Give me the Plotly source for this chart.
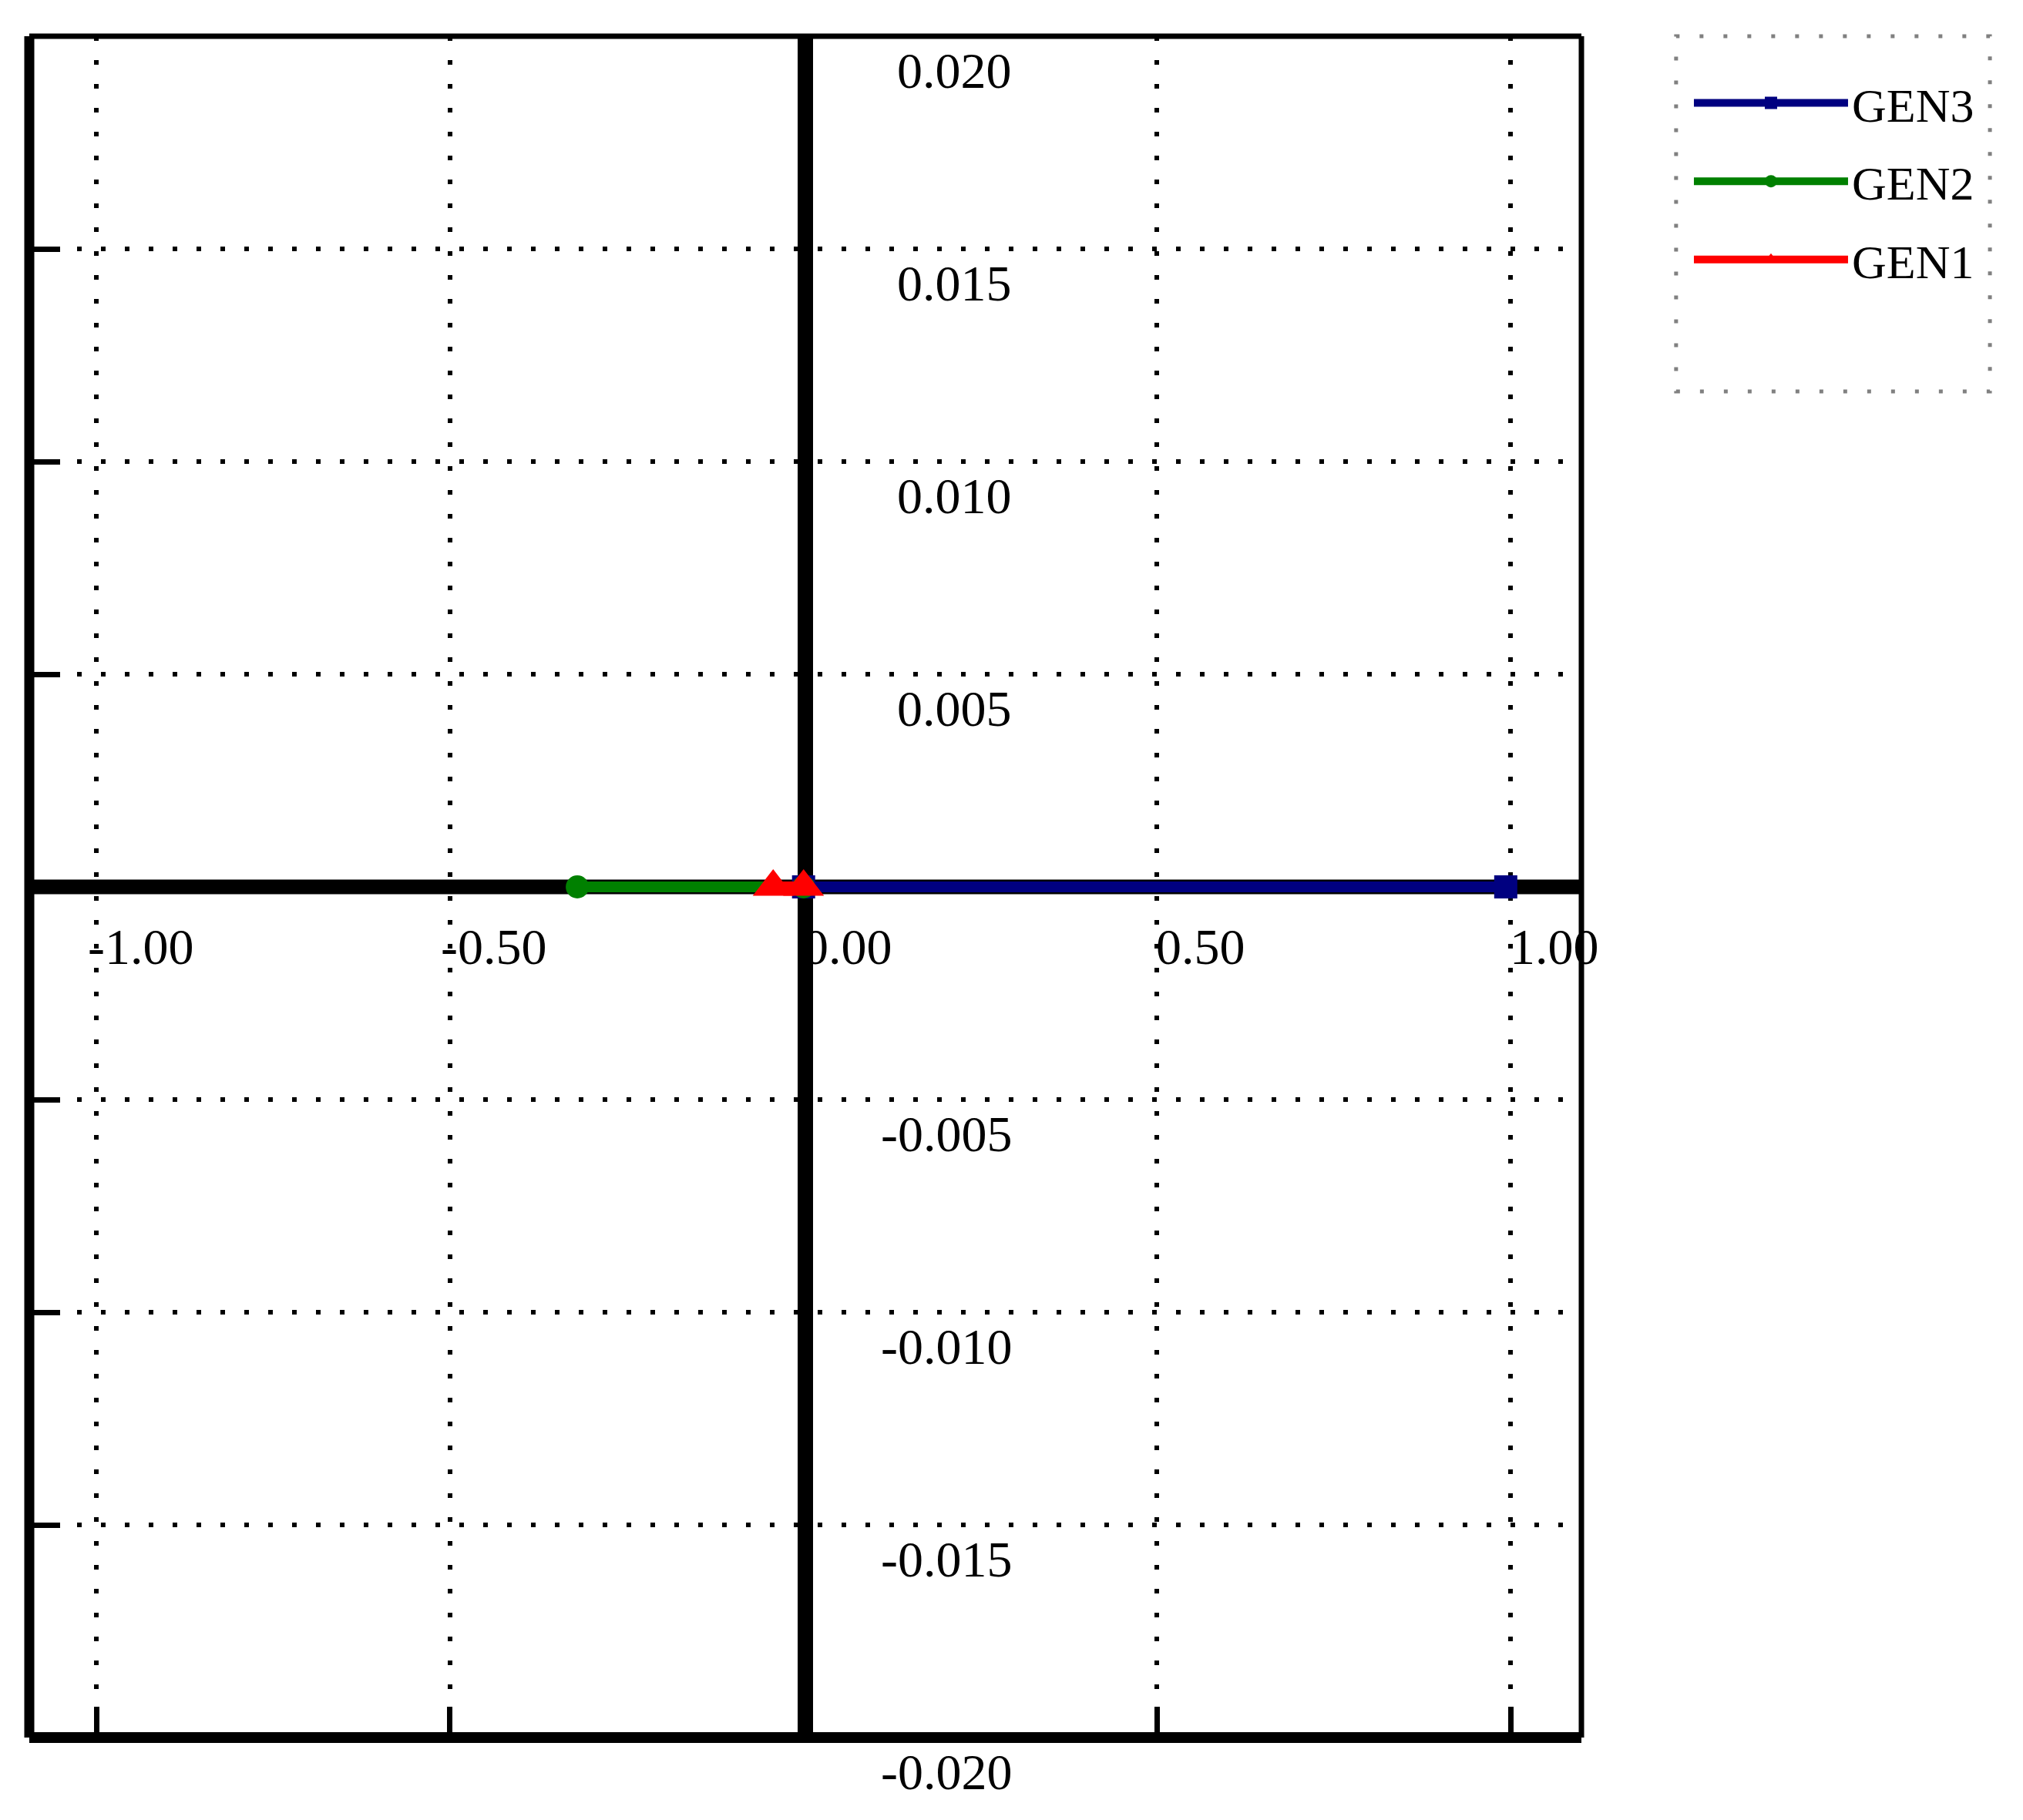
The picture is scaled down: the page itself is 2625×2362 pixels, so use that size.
import plotly.graph_objects as go

# ─── Data ─────────────────────────────────────────────────────────────────────

gen3_x = [0.0, 0.993]
gen3_y = [0.0, 0.0]
gen2_x = [0.0, -0.32]
gen2_y = [0.0, 0.0]
gen1_x = [0.0, -0.043]
gen1_y = [0.0, 0.0]

x_ticks = [-1.0, -0.5, 0.0, 0.5, 1.0]
x_ticktext = ["-1.00", "-0.50", "0.00", "0.50", "1.00"]
y_grid = [-0.02, -0.015, -0.01, -0.005, 0.0, 0.005, 0.01, 0.015, 0.02]
y_labels = [-0.02, -0.015, -0.01, -0.005, 0.005, 0.01, 0.015, 0.02]
y_labeltext = ["-0.020", "-0.015", "-0.010", "-0.005", "0.005", "0.010", "0.015", "0.020"]

X_RANGE = [-1.095, 1.1]
Y_RANGE = [-0.02, 0.02]

FONT = "Liberation Serif"
GRID_DASH = "6px,25px"

fig = go.Figure()

fig.add_trace(go.Scatter(
    x=gen3_x, y=gen3_y, name="GEN3", mode="lines+markers", legendgroup="g3",
    line=dict(color="#000080", width=14),
    marker=dict(symbol="square", size=30, color="#000080"),
))
fig.add_trace(go.Scatter(
    x=gen2_x, y=gen2_y, name="GEN2", mode="lines+markers", legendgroup="g2",
    line=dict(color="#008000", width=14),
    marker=dict(symbol="circle", size=30, color="#008000"),
))
fig.add_trace(go.Scatter(
    x=gen1_x, y=gen1_y, name="GEN1", mode="lines+markers", legendgroup="g1",
    line=dict(color="#FF0000", width=14),
    marker=dict(symbol="triangle-up", size=46, color="#FF0000"),
))

# spines: left/bottom heavy, top/right light, centre heavy
spines = [
    dict(x0=0, x1=0, y0=0, y1=1, w=13),
    dict(x0=0, x1=1, y0=0, y1=0, w=14),
    dict(x0=0, x1=1, y0=1, y1=1, w=7),
    dict(x0=1, x1=1, y0=0, y1=1, w=7),
    dict(x0=0.5, x1=0.5, y0=0, y1=1, w=20),
]
for s in spines:
    fig.add_shape(type="line", xref="paper", yref="paper",
                  x0=s["x0"], x1=s["x1"], y0=s["y0"], y1=s["y1"],
                  line=dict(color="black", width=s["w"]), layer="between")
fig.add_shape(type="line", xref="paper", yref="y", x0=0, x1=1, y0=0, y1=0,
              line=dict(color="black", width=19), layer="between")

# legend frame (dotted grey)
fig.add_shape(type="rect", xref="paper", yref="paper",
              x0=1.061, x1=1.2632, y0=0.7912, y1=1.0,
              line=dict(color="#808080", width=5, dash="5px,26px"))

# tick labels sitting along the centre spines
for v, t in zip(x_ticks, x_ticktext):
    fig.add_annotation(x=v, y=0.5, xref="x", yref="paper", text=t, showarrow=False,
                       xanchor="center", yanchor="middle", xshift=57, yshift=-77,
                       font=dict(family=FONT, size=66, color="black"))
for v, t in zip(y_labels, y_labeltext):
    fig.add_annotation(x=0.5, y=v, xref="paper", yref="y", text=t, showarrow=False,
                       xanchor="right", yanchor="middle", xshift=270, yshift=-44,
                       font=dict(family=FONT, size=66, color="black"))

fig.update_layout(
    width=2617, height=2354,
    margin=dict(l=30, r=573, t=39, b=107),
    paper_bgcolor="white", plot_bgcolor="white",
    font=dict(family=FONT, size=66, color="black"),
    xaxis=dict(
        range=X_RANGE, tickvals=x_ticks, showticklabels=False,
        ticks="inside", ticklen=40, tickwidth=7, tickcolor="black",
        showgrid=True, gridcolor="black", gridwidth=6, griddash=GRID_DASH,
        zeroline=False, showline=False,
    ),
    yaxis=dict(
        range=Y_RANGE, tickvals=y_grid, showticklabels=False,
        ticks="inside", ticklen=40, tickwidth=7, tickcolor="black",
        showgrid=True, gridcolor="black", gridwidth=6, griddash=GRID_DASH,
        zeroline=False, showline=False,
    ),
    legend=dict(
        x=1.07, y=0.982, xanchor="left", yanchor="top",
        bgcolor="rgba(0,0,0,0)", borderwidth=0,
        font=dict(family=FONT, size=62, color="black"),
        itemwidth=200, tracegroupgap=18,
    ),
    showlegend=True,
)

fig.write_html("out.html")
